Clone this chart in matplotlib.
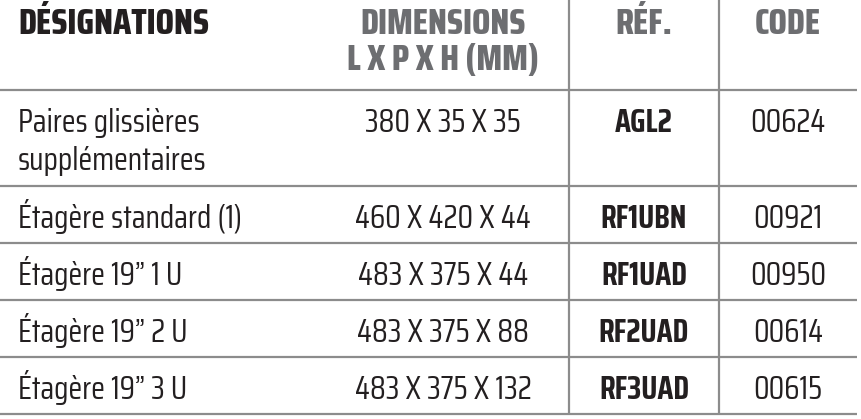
import matplotlib
matplotlib.use("Agg")
import matplotlib.pyplot as plt
from matplotlib import font_manager

# ---- data ----
headers = ["DÉSIGNATIONS", "DIMENSIONS\nL X P X H (MM)", "RÉF.", "CODE"]
designations = ["Paires glissières\nsupplémentaires", "Étagère standard (1)",
                "Étagère 19” 1 U", "Étagère 19” 2 U", "Étagère 19” 3 U"]
dimensions = ["380 X 35 X 35", "460 X 420 X 44", "483 X 375 X 44",
              "483 X 375 X 88", "483 X 375 X 132"]
refs = ["AGL2", "RF1UBN", "RF1UAD", "RF2UAD", "RF3UAD"]
codes = ["00624", "00921", "00950", "00614", "00615"]

# ---- layout ----
names = {f.name for f in font_manager.fontManager.ttflist}
def pick(*cands):
    for c in cands:
        if c in names:
            return [c, "DejaVu Sans"]
    return ["DejaVu Sans"]

fam = pick("Saira Condensed", "Khand", "Barlow Condensed")

W, H = 861, 419
fig = plt.figure(figsize=(W / 100, H / 100), dpi=100)
ax = fig.add_axes([0, 0, 1, 1])
ax.set_xlim(0, W)
ax.set_ylim(H, 0)
ax.axis("off")

row_edges = [90, 186, 243, 300, 357, 414]
col_vlines = [569, 719]
line_col = "#8c8c8c"
lw = 1.6
dark = "#231f20"
grey = "#6d6e71"

for y in row_edges:
    ax.plot([0, 857], [y, y], color=line_col, lw=lw, solid_capstyle="butt")
for x in col_vlines:
    ax.plot([x, x], [0, 414], color=line_col, lw=lw, solid_capstyle="butt")

# header
hs = 26
hw = 800
ax.text(18, 34, headers[0], fontfamily=fam, fontweight=hw, fontsize=hs,
        color=dark, ha="left", va="baseline")
l1, l2 = headers[1].split("\n")
ax.text(443, 34, l1, fontfamily=fam, fontweight=hw, fontsize=hs,
        color=grey, ha="center", va="baseline")
ax.text(443, 70, l2, fontfamily=fam, fontweight=hw, fontsize=hs,
        color=grey, ha="center", va="baseline")
ax.text(644, 34, headers[2], fontfamily=fam, fontweight=hw, fontsize=hs,
        color=grey, ha="center", va="baseline")
ax.text(788, 34, headers[3], fontfamily=fam, fontweight=hw, fontsize=hs,
        color=grey, ha="center", va="baseline")

# body
bs = 23
line_gap = 38
for i in range(len(designations)):
    base = row_edges[i] + 42
    for k, part in enumerate(designations[i].split("\n")):
        ax.text(18, base + k * line_gap, part, fontfamily=fam, fontsize=bs,
                color=dark, ha="left", va="baseline")
    ax.text(443, base, dimensions[i], fontfamily=fam, fontsize=bs,
            color=dark, ha="center", va="baseline")
    ax.text(644, base, refs[i], fontfamily=fam, fontweight="bold", fontsize=bs,
            color=dark, ha="center", va="baseline")
    ax.text(788, base, codes[i], fontfamily=fam, fontsize=bs,
            color=dark, ha="center", va="baseline")

fig.savefig("out.png", dpi=100, facecolor="white")
